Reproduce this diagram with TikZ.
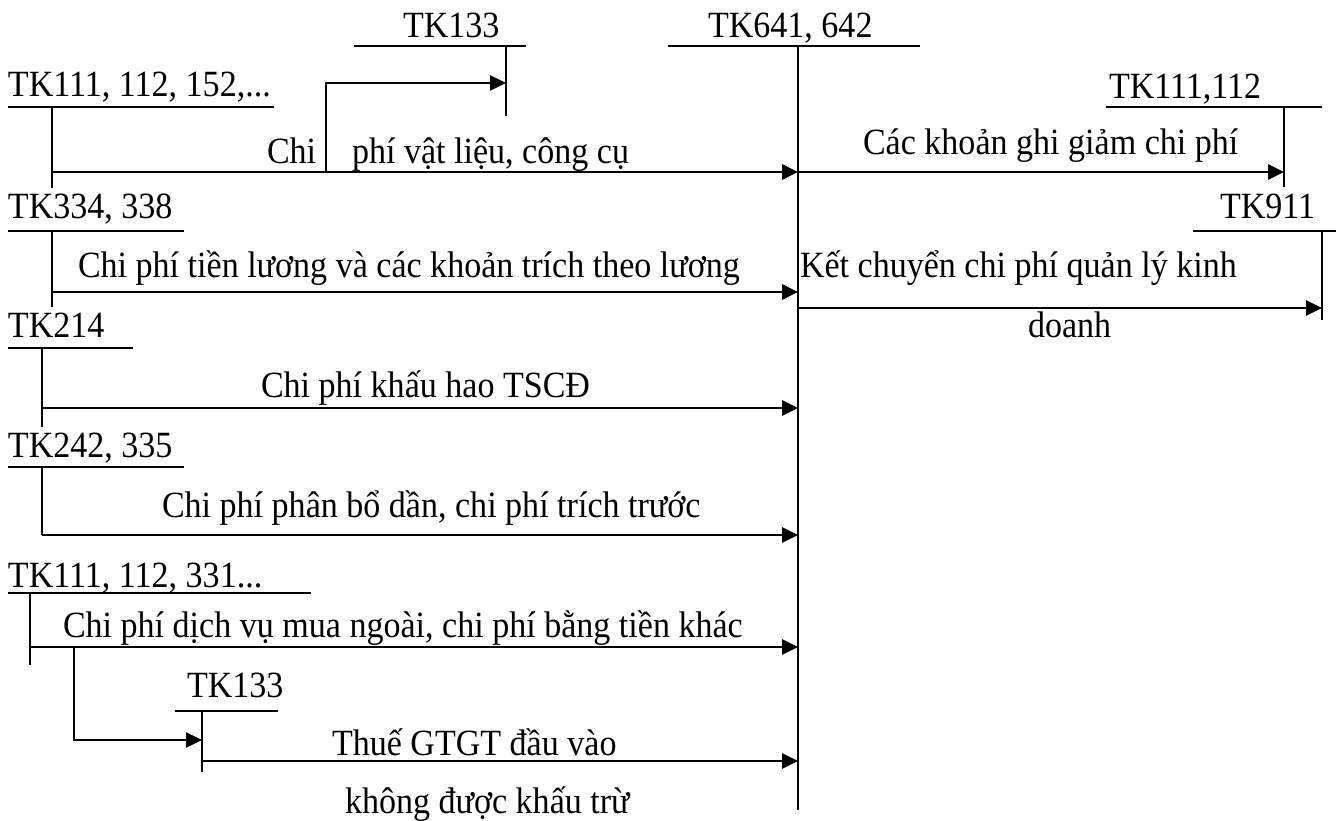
\documentclass[tikz,border=0pt]{standalone}
\usepackage{fontspec}
\setmainfont[FakeStretch=0.92]{Liberation Serif}
\usetikzlibrary{arrows.meta}

\begin{document}
\begin{tikzpicture}[x=1pt, y=-1pt,
  every node/.style={inner sep=0pt, outer sep=0pt, anchor=base west,
    font=\fontsize{37}{42}\selectfont},
  acct/.style={line width=1.8pt},
  flow/.style={line width=2.8pt, -{Triangle[length=16pt,width=15pt]}},
  branchflow/.style={line width=2.4pt, -{Triangle[length=16pt,width=15pt]}}]
\useasboundingbox (0,0) rectangle (1336,821);

% ---- account headers ----
\node (h133a) at (403,38)  {TK133};
\node (h641)  at (708,38)  {TK641, 642};
\node (h111a) at (8,97)    {TK111, 112, 152,...};
\node (h111b) at (1109,99) {TK111,112};
\node (h334)  at (8,219)   {TK334, 338};
\node (h911)  at (1220,219){TK911};
\node (h214)  at (8,337)   {TK214};
\node (h242)  at (8,457)   {TK242, 335};
\node (h111c) at (8,587)   {TK111, 112, 331...};
\node (h133b) at (187,697) {TK133};

% ---- T-account lines (underline + stem) ----
\coordinate (a133a) at (506,46);   \coordinate (b133a) at (506,116);
\coordinate (a641)  at (798,46);   \coordinate (b641)  at (798,810);
\coordinate (a111a) at (52,107);   \coordinate (b111a) at (52,188);
\coordinate (a111b) at (1284,107); \coordinate (b111b) at (1284,187);
\coordinate (a334)  at (52,231);   \coordinate (b334)  at (52,307);
\coordinate (a911)  at (1322,231); \coordinate (b911)  at (1322,320);
\coordinate (a214)  at (42,348);   \coordinate (b214)  at (42,427);
\coordinate (a242)  at (42,467);   \coordinate (b242)  at (42,535);
\coordinate (a111c) at (30,593);   \coordinate (b111c) at (30,665);
\coordinate (a133b) at (202,711);  \coordinate (b133b) at (202,772);

\draw[acct] (354,46) -- (526,46);
\draw[acct] (668,46) -- (920,46);
\draw[acct] (8,107) -- (274,107);
\draw[acct] (1106,107) -- (1322,107);
\draw[acct] (8,231) -- (184,231);
\draw[acct] (1193,231) -- (1336,231);
\draw[acct] (8,348) -- (133,348);
\draw[acct] (8,467) -- (184,467);
\draw[acct] (8,593) -- (311,593);
\draw[acct] (175,711) -- (278,711);

\foreach \n in {133a,641,111a,111b,334,911,214,242,111c,133b}
  \draw[acct] (a\n) -- (b\n);

% ---- flows ----
\coordinate (s1) at (52,172);   \coordinate (e1) at (798,172);
\coordinate (k1) at (326,172);  \coordinate (k1e) at (506,83);
\coordinate (s2) at (798,172);  \coordinate (e2) at (1284,172);
\coordinate (s3) at (52,292);   \coordinate (e3) at (798,292);
\coordinate (s4) at (798,308);  \coordinate (e4) at (1322,308);
\coordinate (s5) at (42,408);   \coordinate (e5) at (798,408);
\coordinate (s6) at (42,535);   \coordinate (e6) at (798,535);
\coordinate (s7) at (30,647);   \coordinate (e7) at (798,647);
\coordinate (k7) at (74,647);   \coordinate (k7e) at (202,740);
\coordinate (s8) at (202,761);  \coordinate (e8) at (798,761);

\draw[flow] (s1) -- (e1);
\draw[branchflow] (k1) |- (k1e);
\draw[flow] (s2) -- (e2);
\draw[flow] (s3) -- (e3);
\draw[flow] (s4) -- (e4);
\draw[flow] (s5) -- (e5);
\draw[flow] (s6) -- (e6);
\draw[flow] (s7) -- (e7);
\draw[branchflow] (k7) |- (k7e);
\draw[flow] (s8) -- (e8);

% ---- flow labels ----
\node (l1a) at (267,164) {Chi};
\node (l1b) at (352,164) {phí vật liệu, công cụ};
\node (l2)  at (863,155) {Các khoản ghi giảm chi phí};
\node (l3)  at (78,277)  {Chi phí tiền lương và các khoản trích theo lương};
\node (l4a) at (800,277) {Kết chuyển chi phí quản lý kinh};
\node (l4b) at (1028,337){doanh};
\node (l5)  at (261,397) {Chi phí khấu hao TSCĐ};
\node (l6)  at (162,517) {Chi phí phân bổ dần, chi phí trích trước};
\node (l7)  at (63,637)  {Chi phí dịch vụ mua ngoài, chi phí bằng tiền khác};
\node (l8a) at (332,755) {Thuế GTGT đầu vào};
\node (l8b) at (345,813) {không được khấu trừ};
\end{tikzpicture}
\end{document}
